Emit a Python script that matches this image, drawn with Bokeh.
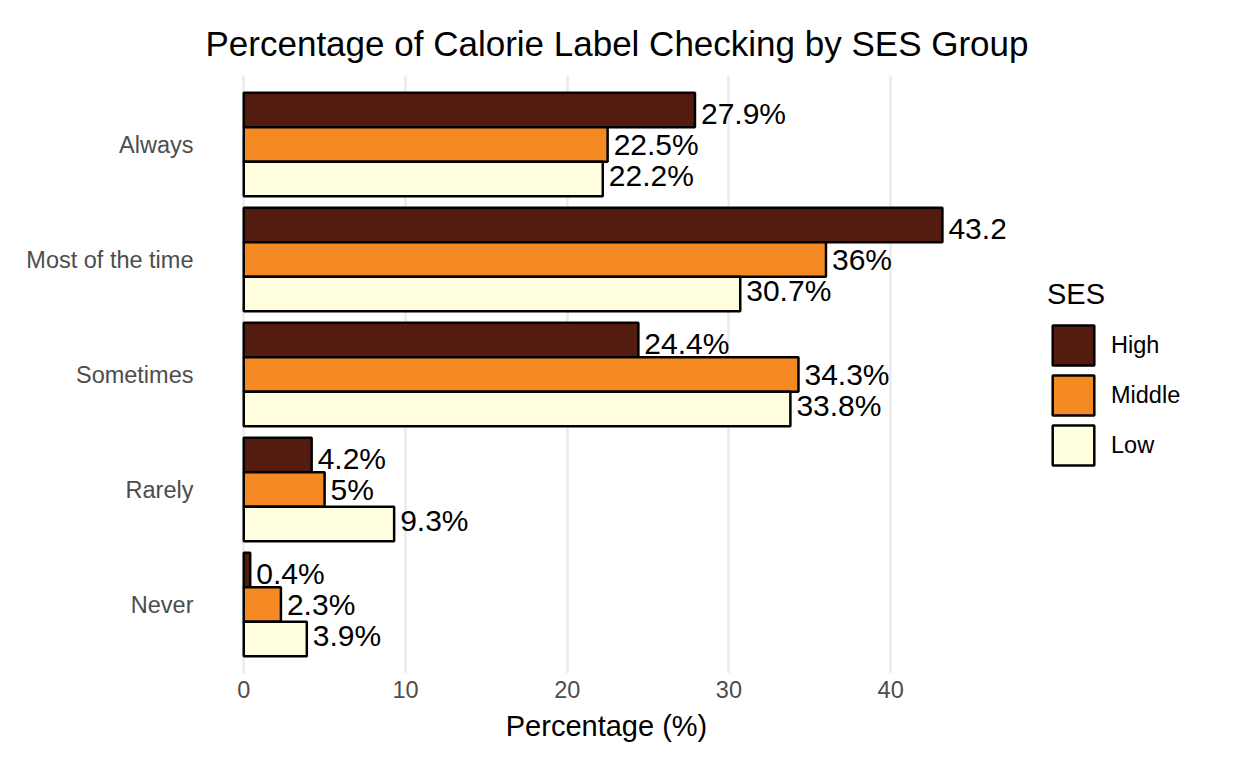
from bokeh.core.properties import value
from bokeh.embed import file_html
from bokeh.models import ColumnDataSource, FactorRange, Legend, LegendItem, Range1d
from bokeh.plotting import figure
from bokeh.resources import INLINE
from bokeh.transform import dodge

categories = ["Always", "Most of the time", "Sometimes", "Rarely", "Never"]
ses_groups = ["High", "Middle", "Low"]
high = [27.9, 43.2, 24.4, 4.2, 0.4]
middle = [22.5, 36.0, 34.3, 5.0, 2.3]
low = [22.2, 30.7, 33.8, 9.3, 3.9]
x_ticks = [0, 10, 20, 30, 40]

colors = ["#531C0F", "#F68A22", "#FFFFE0"]
FONT = "Liberation Sans"


def pct_label(v):
    return f"{v:g}%"


p = figure(frame_width=798, frame_height=598,
           y_range=FactorRange(factors=categories[::-1], range_padding=0.1,
                               range_padding_units="absolute"),
           x_range=Range1d(-2.24, 47.1),
           title="Percentage of Calorie Label Checking by SES Group",
           output_backend="svg", toolbar_location=None,
           min_border_left=207, min_border_right=235,
           min_border_top=75, min_border_bottom=87)
p.outline_line_color = None
p.background_fill_color = "white"

p.title.text_font = FONT
p.title.text_font_size = "35px"
p.title.text_font_style = "normal"
p.title.text_color = "black"
p.title.align = "left"
p.title.offset = -2
p.title.standoff = 25

# axes
p.xaxis.ticker = x_ticks
p.xaxis.axis_label = "Percentage (%)"
for ax in (p.xaxis, p.yaxis):
    ax.axis_line_color = None
    ax.major_tick_line_color = None
    ax.minor_tick_line_color = None
    ax.major_tick_out = 0
    ax.major_label_text_font = FONT
    ax.major_label_text_font_size = "23.5px"
    ax.major_label_text_color = "#4D4D4D"
    ax.axis_label_text_font = FONT
    ax.axis_label_text_font_size = "29px"
    ax.axis_label_text_font_style = "normal"
    ax.axis_label_text_color = "black"
p.xaxis.major_label_standoff = 7
p.xaxis.axis_label_standoff = 9
p.yaxis.major_label_standoff = 14

p.xgrid.grid_line_color = "#EBEBEB"
p.xgrid.grid_line_width = 2.5
p.ygrid.grid_line_color = None

items = []
for name, vals, color, off in zip(ses_groups, [high, middle, low], colors, [0.3, 0.0, -0.3]):
    src = ColumnDataSource(dict(cat=categories, val=vals,
                                label=[pct_label(v) for v in vals]))
    r = p.hbar(y=dodge("cat", off, range=p.y_range), left=0, right="val", height=0.3,
               source=src, fill_color=color, line_color="black", line_width=2.5)
    p.text(x="val", y=dodge("cat", off * 0.89, range=p.y_range), text="label",
           source=src, x_offset=6, text_baseline="middle", text_align="left",
           text_font=value(FONT), text_font_size="30px", text_color="black")
    items.append(LegendItem(label=name, renderers=[r]))

legend = Legend(items=items, title="SES", location="center_left",
                glyph_width=52, glyph_height=50, label_standoff=12, spacing=0,
                margin=42, padding=10, border_line_color=None,
                background_fill_alpha=0,
                title_text_font=FONT, title_text_font_size="29px",
                title_text_font_style="normal", title_text_color="black",
                title_standoff=9,
                label_text_font=FONT, label_text_font_size="23.5px",
                label_text_color="black")
p.add_layout(legend, "right")

open("out.html", "w").write(file_html(p, INLINE))
